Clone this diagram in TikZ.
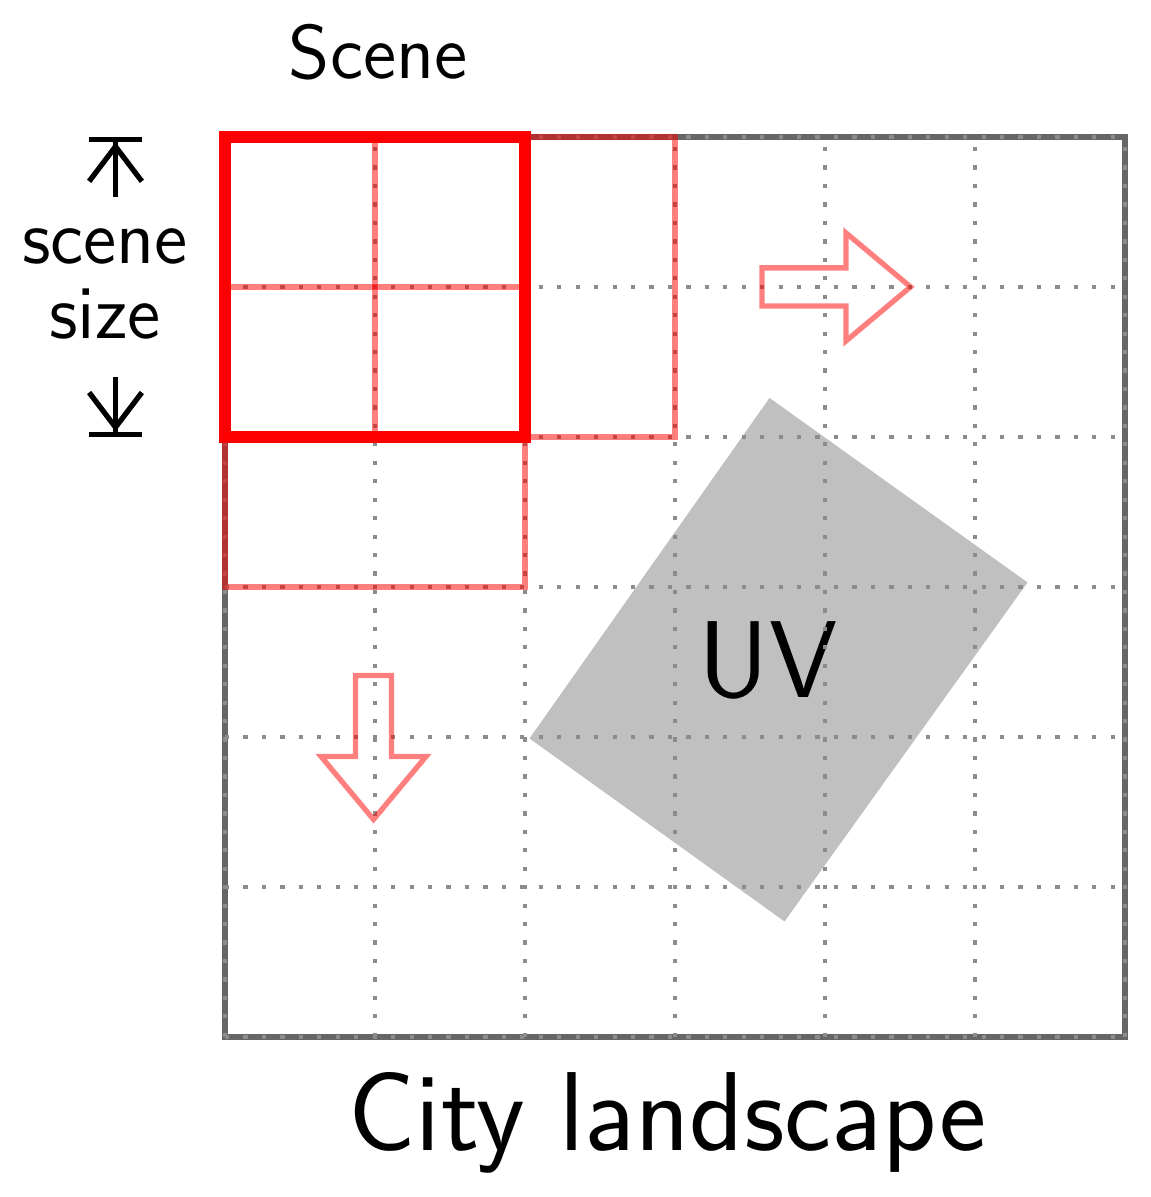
\documentclass[tikz,border=0pt]{standalone}
\usepackage{tikz}
\usetikzlibrary{arrows.meta,positioning,calc}
\renewcommand{\familydefault}{\sfdefault}
\definecolor{framegray}{HTML}{666666}
\definecolor{uvgray}{HTML}{C0C0C0}

\begin{document}
\begin{tikzpicture}[
    gridline/.style={black!45,line width=0.8pt,dash pattern=on 0.8pt off 2.7pt},
    scenebox/.style={red,line width=2.3pt},
    shiftbox/.style={red,draw opacity=0.5,line width=1pt},
    movearrow/.style={red,draw opacity=0.5,line width=1pt,line join=miter},
    sizearrow/.style={line width=1pt,-{Straight Barb[length=6.6pt,width=10pt]Bar[width=10pt]}}
  ]
  \useasboundingbox (-1.5,-1.067) rectangle (6.167,6.913);

  % UV patch
  \fill[uvgray] (3.63,4.26) -- (5.35,3.03) -- (3.73,0.77) -- (2.03,1.99) -- cycle;
  \node[font=\huge,anchor=base] (uvlbl) at (3.62,2.26) {UV};

  % City landscape
  \draw[framegray,line width=1.1pt] (0,0) rectangle (6,6);
  \draw[gridline] (0,0) grid (6,6);
  \node[font=\fontsize{21.3}{25}\selectfont,anchor=base] (citylbl) at (2.95,-0.76) {City landscape};

  % Shifted scenes
  \draw[shiftbox] (1,4) rectangle (3,6);
  \draw[shiftbox] (0,3) rectangle (2,5);
  \draw[movearrow] (3.58,4.873) -- (4.14,4.873) -- (4.14,4.64) -- (4.57,5)
    -- (4.14,5.36) -- (4.14,5.127) -- (3.58,5.127) -- cycle;
  \draw[movearrow] (0.87,2.41) -- (0.87,1.87) -- (0.64,1.87) -- (0.99,1.45)
    -- (1.34,1.87) -- (1.11,1.87) -- (1.11,2.41) -- cycle;

  % Scene
  \draw[scenebox] (0,4) rectangle (2,6);
  \node[font=\Large,anchor=base] (scenelbl) at (1.02,6.39) {Scene};

  % Scene size
  \node[font=\fontsize{14.4}{14.2}\selectfont,align=center] (sizelbl) at (-0.8,5.02) {scene\\size};
  \coordinate (upfrom) at (-0.73,5.6);
  \coordinate (uptop) at (-0.73,6);
  \coordinate (downfrom) at (-0.73,4.4);
  \coordinate (downbot) at (-0.73,4);
  \draw[sizearrow] (upfrom) -- (uptop);
  \draw[sizearrow] (downfrom) -- (downbot);
\end{tikzpicture}
\end{document}
